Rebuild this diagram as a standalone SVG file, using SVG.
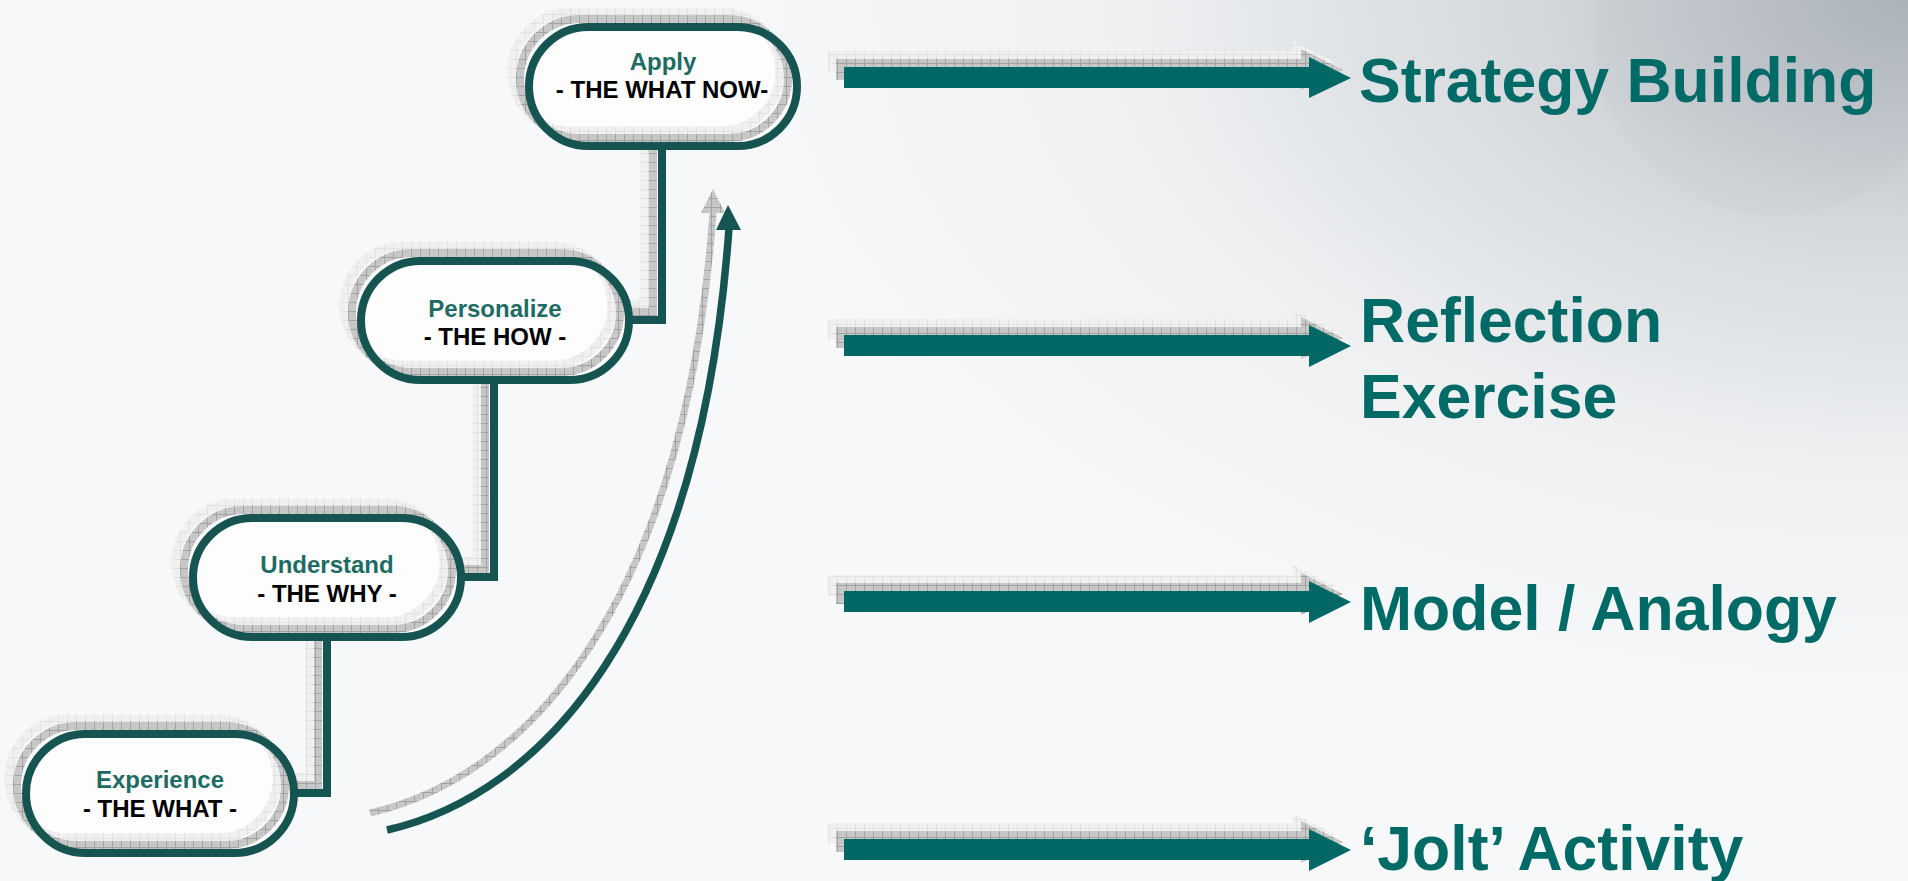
<svg xmlns="http://www.w3.org/2000/svg" xmlns:xlink="http://www.w3.org/1999/xlink" width="1908" height="881" viewBox="0 0 1908 881">
<style>
.t1{font-family:"Liberation Sans",Arial,sans-serif;font-weight:bold;font-size:24px;fill:#1d6b64;text-anchor:middle}
.t2{font-family:"Liberation Sans",Arial,sans-serif;font-weight:bold;font-size:24px;fill:#000;text-anchor:middle}
.big{font-family:"Liberation Sans",Arial,sans-serif;font-weight:bold;font-size:62.5px;fill:#006a66}
.dk{fill:none;stroke:#155450;stroke-width:8;stroke-linejoin:miter}
.sh{fill:none;stroke:url(#hatch);stroke-width:8}
.hl{fill:none;stroke:url(#light);stroke-width:9}
.arr{fill:#016866}
.arrsh{fill:url(#hatch)}
.arrhl{fill:url(#light)}
</style>
<defs>
<pattern id="hatch" width="9" height="9" patternUnits="userSpaceOnUse">
<rect width="9" height="9" fill="#c9c9c9"/>
<path d="M0 0L9 9M9 0L0 9" stroke="#bdbdbd" stroke-width="0.6"/>
<path d="M0 0.5H9M0.5 0V9" stroke="#a2a2a2" stroke-width="1"/>
</pattern>
<pattern id="light" width="9" height="9" patternUnits="userSpaceOnUse">
<rect width="9" height="9" fill="#f0f0f0"/>
<path d="M0 0.5H9M0.5 0V9" stroke="#e2e2e2" stroke-width="1"/>
</pattern>
<radialGradient id="bgr" cx="1908" cy="0" r="1200" gradientUnits="userSpaceOnUse" gradientTransform="translate(1908 0) scale(1 0.6) translate(-1908 0)">
<stop offset="0" stop-color="#adb3bb"/>
<stop offset="0.3" stop-color="#d3d7db"/>
<stop offset="0.65" stop-color="#eef0f2"/>
<stop offset="1" stop-color="#f7f8f9"/>
</radialGradient>
<radialGradient id="blob" cx="0.5" cy="0.5" r="0.5">
<stop offset="0" stop-color="#9ea5ad" stop-opacity="0.10"/>
<stop offset="0.95" stop-color="#9ea5ad" stop-opacity="0.08"/>
<stop offset="1" stop-color="#9ea5ad" stop-opacity="0"/>
</radialGradient>
<g id="pill">
<rect x="4" y="4" width="268" height="119" rx="59.5" fill="#fdfdfd"/>
<rect x="-13" y="-11" width="268" height="119" rx="59.5" class="hl"/>
<rect x="-5" y="-4" width="268" height="119" rx="59.5" class="sh"/>
<rect x="4" y="4" width="268" height="119" rx="59.5" class="dk"/>
</g>
</defs>
<rect width="1908" height="881" fill="url(#bgr)"/>
<circle cx="1775" cy="35" r="185" fill="url(#blob)"/>

<g id="connectors">
<g id="step-lines">
<path class="hl" d="M645,134 V304 H616"/>
<path class="sh" d="M653,142 V312 H624"/>
<path class="dk" d="M662,150 V320 H632"/>
<path class="hl" d="M477,364 V561 H446"/>
<path class="sh" d="M485,372 V569 H454"/>
<path class="dk" d="M494,380 V577 H462"/>
<path class="hl" d="M310,621 V777 H279"/>
<path class="sh" d="M318,629 V785 H287"/>
<path class="dk" d="M327,637 V793 H295"/>
</g>
<g id="rise-arrow">
<path d="M370,813 C523,778 684,613 713,213" fill="none" stroke="url(#hatch)" stroke-width="7"/>
<polygon points="713,189 701,213 725,213" fill="url(#hatch)"/>
<path d="M387,830 C540,795 700,630 729,228" fill="none" stroke="#155450" stroke-width="7.5"/>
<polygon points="728,205 716,230 741,230" fill="#155450"/>
</g>
<g id="arrow-1">
<polygon class="arrhl" points="828,51 1293,51 1293,41 1335,62 1293,82 1293,72 828,72"/>
<polygon class="arrsh" points="836,59 1301,59 1301,49 1343,70 1301,90 1301,80 836,80"/>
<polygon class="arr" points="844,67 1309,67 1309,57 1351,78 1309,98 1309,88 844,88"/>
</g>
<g id="arrow-2">
<polygon class="arrhl" points="828,319 1293,319 1293,309 1335,330 1293,351 1293,340 828,340"/>
<polygon class="arrsh" points="836,327 1301,327 1301,317 1343,338 1301,359 1301,348 836,348"/>
<polygon class="arr" points="844,335 1309,335 1309,325 1351,346 1309,367 1309,356 844,356"/>
</g>
<g id="arrow-3">
<polygon class="arrhl" points="828,575 1293,575 1293,565 1335,586 1293,607 1293,596 828,596"/>
<polygon class="arrsh" points="836,583 1301,583 1301,573 1343,594 1301,615 1301,604 836,604"/>
<polygon class="arr" points="844,591 1309,591 1309,581 1351,602 1309,623 1309,612 844,612"/>
</g>
<g id="arrow-4">
<polygon class="arrhl" points="828,823 1293,823 1293,813 1335,834 1293,855 1293,844 828,844"/>
<polygon class="arrsh" points="836,831 1301,831 1301,821 1343,842 1301,863 1301,852 836,852"/>
<polygon class="arr" points="844,839 1309,839 1309,829 1351,850 1309,871 1309,860 844,860"/>
</g>
</g>

<g id="node-apply">
<use xlink:href="#pill" href="#pill" transform="translate(525,23)"/>
<text class="t1" x="663" y="70">Apply</text>
<text class="t2" x="662" y="98">- THE WHAT NOW-</text>
</g>
<g id="node-personalize">
<use xlink:href="#pill" href="#pill" transform="translate(357,257)"/>
<text class="t1" x="495" y="317">Personalize</text>
<text class="t2" x="495" y="345">- THE HOW -</text>
</g>
<g id="node-understand">
<use xlink:href="#pill" href="#pill" transform="translate(189,514)"/>
<text class="t1" x="327" y="573">Understand</text>
<text class="t2" x="327" y="602">- THE WHY -</text>
</g>
<g id="node-experience">
<use xlink:href="#pill" href="#pill" transform="translate(22,730)"/>
<text class="t1" x="160" y="788">Experience</text>
<text class="t2" x="160" y="817">- THE WHAT -</text>
</g>

<g id="label-strategy"><text class="big" x="1359" y="102">Strategy Building</text></g>
<g id="label-reflection"><text class="big" x="1360" y="342">Reflection</text><text class="big" x="1360" y="418">Exercise</text></g>
<g id="label-model"><text class="big" x="1360" y="630">Model / Analogy</text></g>
<g id="label-jolt"><text class="big" x="1360" y="870">‘Jolt’ Activity</text></g>
</svg>
